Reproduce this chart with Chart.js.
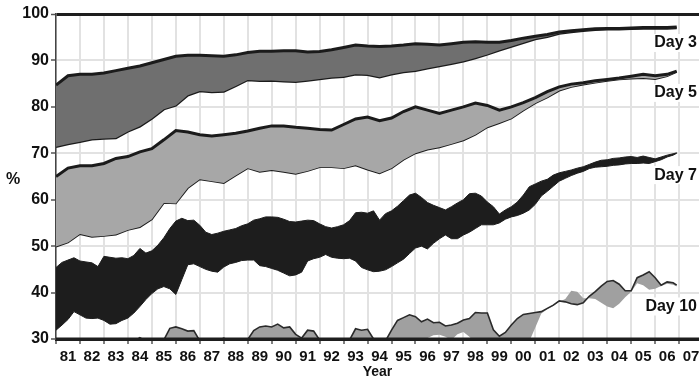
<!DOCTYPE html>
<html>
<head>
<meta charset="utf-8">
<script src="https://cdn.jsdelivr.net/npm/chart.js@4.4.1/dist/chart.umd.min.js"></script>
<style>
  html, body { margin: 0; padding: 0; background: #fff; }
  #wrap { width: 699px; height: 381px; position: relative; }
</style>
</head>
<body>
<div id="wrap"><canvas id="myChart"></canvas></div>
<script>
// x positions (year) for the smoother Day 3 / Day 5 envelopes, every half year
const halfYears = [1981, 1981.5, 1982, 1982.5, 1983, 1983.5, 1984, 1984.5, 1985, 1985.5,
  1986, 1986.5, 1987, 1987.5, 1988, 1988.5, 1989, 1989.5, 1990, 1990.5,
  1991, 1991.5, 1992, 1992.5, 1993, 1993.5, 1994, 1994.5, 1995, 1995.5,
  1996, 1996.5, 1997, 1997.5, 1998, 1998.5, 1999, 1999.5, 2000, 2000.5,
  2001, 2001.5, 2002, 2002.5, 2003, 2003.5, 2004, 2004.5, 2005, 2005.5,
  2006, 2006.5, 2006.9];

// x positions for Day 7 / Day 10, every quarter
const quarterYears = [1981, 1981.25, 1981.5, 1981.75, 1982, 1982.25, 1982.5, 1982.75,
  1983, 1983.25, 1983.5, 1983.75, 1984, 1984.25, 1984.5, 1984.75,
  1985, 1985.25, 1985.5, 1985.75, 1986, 1986.25, 1986.5, 1986.75,
  1987, 1987.25, 1987.5, 1987.75, 1988, 1988.25, 1988.5, 1988.75,
  1989, 1989.25, 1989.5, 1989.75, 1990, 1990.25, 1990.5, 1990.75,
  1991, 1991.25, 1991.5, 1991.75, 1992, 1992.25, 1992.5, 1992.75,
  1993, 1993.25, 1993.5, 1993.75, 1994, 1994.25, 1994.5, 1994.75,
  1995, 1995.25, 1995.5, 1995.75, 1996, 1996.25, 1996.5, 1996.75,
  1997, 1997.25, 1997.5, 1997.75, 1998, 1998.25, 1998.5, 1998.75,
  1999, 1999.25, 1999.5, 1999.75, 2000, 2000.25, 2000.5, 2000.75,
  2001, 2001.25, 2001.5, 2001.75, 2002, 2002.25, 2002.5, 2002.75,
  2003, 2003.25, 2003.5, 2003.75, 2004, 2004.25, 2004.5, 2004.75,
  2005, 2005.25, 2005.5, 2005.75, 2006, 2006.25, 2006.5, 2006.75, 2006.9];

// tick years on the x axis (labelled 81 ... 07)
const tickYears = [1981, 1982, 1983, 1984, 1985, 1986, 1987, 1988, 1989, 1990,
  1991, 1992, 1993, 1994, 1995, 1996, 1997, 1998, 1999, 2000,
  2001, 2002, 2003, 2004, 2005, 2006, 2007];
const yTicks = [30, 40, 50, 60, 70, 80, 90, 100];

const day3Upper = [84.7, 86.7, 87.0, 87.0, 87.3, 87.8, 88.3, 88.8, 89.5, 90.2,
  90.9, 91.1, 91.1, 91.0, 90.9, 91.2, 91.7, 92.0, 92.0, 92.1,
  92.1, 91.8, 91.9, 92.3, 92.8, 93.3, 93.1, 93.0, 93.1, 93.3,
  93.6, 93.5, 93.3, 93.6, 93.9, 94.0, 93.9, 93.9, 94.3, 94.8,
  95.2, 95.6, 96.1, 96.4, 96.6, 96.8, 96.9, 96.9, 97.0, 97.1,
  97.1, 97.1, 97.2];
const day3Lower = [71.4, 72.0, 72.5, 73.0, 73.2, 73.3, 74.7, 75.8, 77.5, 79.5,
  80.3, 82.5, 83.4, 83.2, 83.3, 84.5, 85.8, 85.6, 85.7, 85.5,
  85.4, 85.7, 86.0, 86.3, 86.5, 87.0, 86.9, 86.4, 87.0, 87.5,
  87.8, 88.3, 88.8, 89.3, 89.8, 90.5, 91.3, 92.2, 93.0, 93.8,
  94.6, 95.1, 95.8, 96.1, 96.4, 96.6, 96.7, 96.7, 96.8, 96.9,
  96.9, 96.9, 97.0];

const day5Upper = [65.0, 66.8, 67.3, 67.3, 67.8, 68.9, 69.3, 70.3, 71.0, 72.9,
  74.9, 74.6, 74.0, 73.7, 74.0, 74.3, 74.8, 75.4, 75.9, 75.9,
  75.6, 75.4, 75.1, 75.0, 76.2, 77.4, 77.8, 77.0, 77.6, 79.0,
  80.0, 79.3, 78.6, 79.3, 80.0, 80.8, 80.3, 79.3, 80.0, 80.9,
  82.0, 83.3, 84.3, 84.9, 85.2, 85.6, 85.9, 86.2, 86.6, 87.0,
  86.7, 87.0, 87.7];
const day5Lower = [49.9, 50.8, 52.6, 52.0, 52.2, 52.5, 53.5, 54.1, 55.8, 59.3,
  59.2, 62.5, 64.4, 64.0, 63.6, 65.2, 66.8, 66.0, 66.4, 66.0,
  65.6, 66.2, 67.0, 67.0, 66.8, 67.4, 66.5, 65.7, 66.8, 68.6,
  70.0, 70.8, 71.3, 72.0, 72.8, 74.0, 75.6, 76.5, 77.5, 79.2,
  80.8, 82.0, 83.5, 84.3, 84.8, 85.2, 85.6, 85.9, 86.1, 86.2,
  86.0, 86.6, 87.5];

const day7Upper = [45.4, 46.5, 47.0, 47.5, 46.8, 46.6, 46.4, 45.6,
  47.8, 47.6, 47.4, 47.5, 47.3, 48.0, 49.5, 48.5,
  49.0, 50.2, 51.8, 53.8, 55.4, 56.0, 55.5, 55.6,
  54.5, 53.0, 52.5, 52.8, 53.2, 53.5, 53.8, 54.4,
  54.8, 55.6, 55.9, 56.3, 56.3, 56.2, 55.8, 55.3,
  55.2, 55.4, 55.6, 55.5, 54.8, 54.2, 53.9, 54.2,
  54.6, 55.5, 57.2, 57.3, 57.1, 57.6, 55.6, 57.0,
  57.6, 58.6, 59.8, 61.0, 61.4, 60.5, 59.4, 58.8,
  58.3, 57.8, 58.5, 59.3, 60.0, 61.3, 61.4, 60.8,
  59.5, 58.5, 56.9, 57.8, 58.5, 59.5, 61.0, 62.8,
  63.4, 64.0, 64.4, 65.3, 65.8, 66.1, 66.4, 66.8,
  67.1, 67.6, 68.1, 68.5, 68.6, 68.9, 69.0, 69.2,
  69.3, 69.1, 69.4, 69.1, 68.8, 69.2, 69.6, 69.9, 70.1];
const day7Lower = [31.9, 33.0, 34.2, 35.9, 35.2, 34.5, 34.4, 34.5,
  34.0, 33.2, 33.3, 34.0, 34.5, 35.6, 37.0, 38.5,
  39.8, 40.8, 41.3, 40.8, 39.6, 42.8, 46.0, 46.2,
  45.6, 45.0, 44.6, 44.4, 45.5, 46.2, 46.5, 46.9,
  47.0, 47.0, 45.8, 45.6, 45.2, 44.8, 44.2, 43.6,
  43.8, 44.4, 46.8, 47.3, 47.6, 48.2, 47.6, 47.4,
  47.3, 47.4, 46.8, 45.4, 44.9, 44.5, 44.6, 44.9,
  45.6, 46.4, 47.2, 48.4, 49.6, 50.0, 49.4, 50.6,
  51.6, 52.4, 51.6, 51.6, 52.4, 53.0, 53.8, 54.6,
  54.6, 54.6, 55.0, 55.8, 56.3, 56.6, 57.1, 57.8,
  59.0, 60.8, 61.8, 62.9, 64.0, 64.6, 65.2, 65.7,
  66.1, 66.7, 67.0, 67.1, 67.2, 67.4, 67.5, 67.7,
  67.8, 67.8, 67.9, 67.8, 68.2, 68.6, 69.2, 69.6, 70.0];

// Day 10: outlined edge and the other (unoutlined) edge of the grey band; values under 30 fall below the axis
const day10Line = [28.0, 28.0, 28.0, 28.0, 28.0, 28.0, 28.0, 28.0,
  28.0, 28.0, 28.0, 28.5, 29.0, 29.5, 30.3, 29.5,
  29.0, 29.0, 29.8, 32.3, 32.6, 32.2, 31.7, 31.8,
  29.6, 29.0, 29.2, 29.6, 30.2, 29.6, 29.2, 29.4,
  29.9, 31.8, 32.6, 32.8, 32.6, 33.2, 32.4, 32.6,
  31.0, 30.2, 31.9, 31.7, 29.8, 29.2, 29.0, 29.0,
  29.3, 29.8, 32.2, 31.9, 32.1, 30.0, 29.3, 29.6,
  31.9, 34.0, 34.6, 35.2, 34.8, 33.7, 34.3, 33.5,
  33.6, 32.8, 33.0, 33.4, 34.1, 34.4, 35.7, 35.6,
  35.6, 32.0, 30.6, 31.4, 33.0, 34.4, 35.3, 35.5,
  35.7, 35.9, 36.6, 37.3, 38.2, 38.0, 37.6, 37.4,
  37.8, 39.2, 40.2, 41.4, 42.4, 42.6, 41.8, 40.4,
  40.4, 43.2, 43.8, 44.5, 43.2, 41.6, 42.3, 42.1, 41.6];
const day10Band = [27.0, 27.0, 27.0, 27.0, 27.0, 27.0, 27.0, 27.0,
  27.0, 27.0, 27.0, 27.0, 27.0, 27.0, 27.0, 27.0,
  27.0, 27.0, 27.0, 27.0, 27.0, 27.0, 27.0, 27.0,
  27.0, 27.0, 27.0, 27.0, 27.0, 27.0, 27.0, 27.0,
  27.0, 27.0, 27.0, 27.0, 27.0, 27.0, 27.0, 27.0,
  27.0, 27.0, 27.0, 27.0, 27.0, 27.0, 27.0, 27.0,
  27.0, 27.0, 27.0, 27.0, 27.0, 27.0, 27.0, 27.0,
  27.0, 27.0, 28.0, 29.0, 29.5, 29.8, 30.2, 30.8,
  30.9, 30.5, 29.8, 31.0, 31.5, 30.5, 29.0, 29.0,
  29.5, 29.5, 30.0, 28.5, 27.5, 28.0, 28.5, 29.5,
  32.5, 35.5, 36.4, 37.1, 38.0, 38.6, 40.4, 40.2,
  38.8, 38.8, 38.6, 37.8, 37.0, 36.6, 37.6, 39.0,
  40.2, 42.0, 41.6, 40.6, 40.8, 41.4, 41.9, 41.7, 41.3];

const dayNames = ['Day 3', 'Day 5', 'Day 7', 'Day 10'];

const toPoints = (xs, ys) => xs.map((x, i) => ({ x: x, y: ys[i] }));
const FONT = "'Liberation Sans', Arial, Helvetica, sans-serif";
Chart.defaults.font.family = FONT;

// end-of-line labels, "%" and the axis line drawn over the bands
const sideText = {
  id: 'sideText',
  afterDatasetsDraw(chart) {
    const { ctx, chartArea, scales } = chart;
    const labelAt = [93.75, 83.0, 65.3, 37.0];
    ctx.save();
    ctx.strokeStyle = '#1e1e1e';
    ctx.lineWidth = 3;
    ctx.beginPath();
    ctx.moveTo(chartArea.left, chartArea.bottom);
    ctx.lineTo(chartArea.right, chartArea.bottom);
    ctx.stroke();

    ctx.font = 'bold 16px ' + FONT;
    ctx.textAlign = 'right';
    ctx.textBaseline = 'middle';
    dayNames.forEach((name, i) => {
      const y = scales.y.getPixelForValue(labelAt[i]);
      const w = ctx.measureText(name).width;
      ctx.fillStyle = '#fff';
      ctx.fillRect(chartArea.right - 3 - w - 2, y - 9, w + 4, 18);
      ctx.fillStyle = '#111';
      ctx.fillText(name, chartArea.right - 2, y);
    });
    ctx.textAlign = 'center';
    ctx.font = 'bold 16px ' + FONT;
    ctx.fillText('%', 13, (chartArea.top + chartArea.bottom) / 2 + 3);
    ctx.restore();
  }
};

const ctx = document.getElementById('myChart').getContext('2d');
const myChart = new Chart(ctx, {
  type: 'line',
  data: {
    datasets: [
      { label: 'Day 3 upper', data: toPoints(halfYears, day3Upper), borderColor: '#1b1b1b', borderWidth: 3,
        backgroundColor: '#6f6f6f', fill: '+1' },
      { label: 'Day 3 lower', data: toPoints(halfYears, day3Lower), borderColor: '#1b1b1b', borderWidth: 2.5, fill: false },
      { label: 'Day 5 upper', data: toPoints(halfYears, day5Upper), borderColor: '#1b1b1b', borderWidth: 3,
        backgroundColor: '#a7a7a7', fill: '+1' },
      { label: 'Day 5 lower', data: toPoints(halfYears, day5Lower), borderColor: '#1b1b1b', borderWidth: 1.8, fill: false },
      { label: 'Day 7 upper', data: toPoints(quarterYears, day7Upper), borderColor: '#1d1d1d', borderWidth: 1,
        backgroundColor: '#1d1d1d', fill: '+1' },
      { label: 'Day 7 lower', data: toPoints(quarterYears, day7Lower), borderColor: '#1d1d1d', borderWidth: 1, fill: false },
      { label: 'Day 10 line', data: toPoints(quarterYears, day10Line), borderColor: '#2a2a2a', borderWidth: 1.6,
        backgroundColor: '#a0a0a0', fill: '+1', clip: 0 },
      { label: 'Day 10 band', data: toPoints(quarterYears, day10Band), borderColor: 'rgba(0,0,0,0)', borderWidth: 0,
        fill: false, clip: 0 }
    ]
  },
  options: {
    responsive: true,
    maintainAspectRatio: false,
    animation: false,
    devicePixelRatio: 1,
    layout: { padding: { top: 14, right: 0, left: 0, bottom: 0 } },
    elements: { point: { radius: 0 }, line: { tension: 0 } },
    scales: {
      x: {
        type: 'linear',
        min: 1981,
        max: 2007.83,
        afterBuildTicks: s => { s.ticks = tickYears.map(v => ({ value: v })); },
        afterFit: s => { s.height = 42; s.paddingLeft = 0; s.paddingRight = 0; },
        ticks: {
          autoSkip: false,
          maxRotation: 0,
          labelOffset: 12,
          padding: 4,
          color: '#111',
          font: { size: 15, weight: 'bold' },
          callback: v => String(v).slice(2)
        },
        grid: { color: '#e2e2e2', lineWidth: 2, tickLength: 5, tickColor: '#555', tickWidth: 1.5 },
        border: { color: '#1e1e1e', width: 3 },
        title: {
          display: true,
          text: 'Year',
          color: '#111',
          font: { size: 14, weight: 'bold' },
          padding: { top: 0, bottom: 0 }
        }
      },
      y: {
        min: 30,
        max: 100,
        afterBuildTicks: s => { s.ticks = yTicks.map(v => ({ value: v })); },
        afterFit: s => { s.width = 56; },
        ticks: {
          padding: 2,
          color: '#111',
          font: { size: 16, weight: 'bold' }
        },
        grid: {
          color: c => (c.tick && c.tick.value === 100 ? '#1e1e1e' : '#e2e2e2'),
          lineWidth: c => (c.tick && c.tick.value === 100 ? 3 : 2),
          tickLength: 5,
          tickColor: '#555',
          tickWidth: 1.5
        },
        border: { color: '#444', width: 1.5 }
      }
    },
    plugins: {
      legend: { display: false },
      tooltip: { enabled: false }
    }
  },
  plugins: [sideText]
});
</script>
</body>
</html>
